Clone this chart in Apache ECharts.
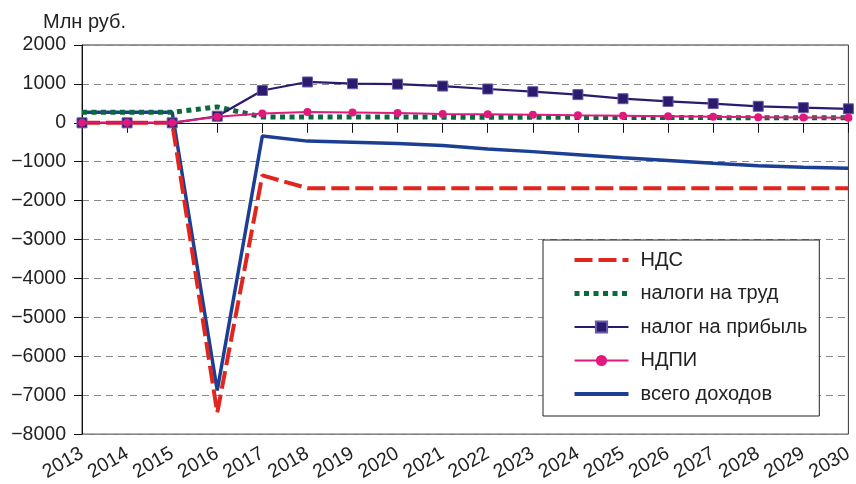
<!DOCTYPE html>
<html>
<head>
<meta charset="utf-8">
<script src="https://cdn.jsdelivr.net/npm/echarts@6/dist/echarts.min.js"></script>
<style>html,body{margin:0;padding:0;background:#fff}#c{width:856px;height:484px}</style>
</head>
<body>
<div id="c"></div>
<script>
var years = ['2013','2014','2015','2016','2017','2018','2019','2020','2021','2022','2023','2024','2025','2026','2027','2028','2029','2030'];
var nds = [0,0,0,-7450,-1350,-1680,-1680,-1680,-1680,-1680,-1680,-1680,-1680,-1680,-1680,-1680,-1680,-1680];
var labor = [270,270,270,410,150,150,150,148,146,144,142,140,138,136,134,132,130,128];
var profit = [0,0,0,170,830,1050,1005,995,945,870,800,725,620,550,495,425,390,360];
var ndpi = [0,0,0,155,240,280,265,250,230,220,210,195,185,170,155,145,135,128];
var total = [270,270,270,-6880,-340,-470,-500,-530,-580,-670,-740,-820,-900,-970,-1040,-1100,-1140,-1170];
var seriesNames = ['НДС','налоги на труд','налог на прибыль','НДПИ','всего доходов'];
var yTitle = 'Млн руб.';

var FONT = 'Liberation Sans, Arial, sans-serif';
var C_NDS = '#e0261f', C_LAB = '#0b6a3b', C_PRO = '#2b1a6e', C_NDPI = '#e0197d', C_TOT = '#1b3f93';
var chart = echarts.init(document.getElementById('c'), null, {renderer: 'canvas'});
chart.setOption({
  animation: false,
  backgroundColor: '#fff',
  textStyle: {fontFamily: FONT},
  title: {
    text: yTitle, left: 38, top: 7,
    textStyle: {fontFamily: FONT, fontSize: 20, fontWeight: 'normal', color: '#222'}
  },
  grid: {
    left: 82, right: 5, top: 45, bottom: 48,
    show: true, borderColor: '#333', borderWidth: 1, backgroundColor: 'transparent',
    containLabel: false
  },
  legend: {
    orient: 'vertical',
    left: 543, top: 240,
    padding: [10, 12, 12, 29],
    itemGap: 13.5,
    itemWidth: 54, itemHeight: 14,
    backgroundColor: '#fff', borderColor: '#222', borderWidth: 1,
    textStyle: {fontFamily: FONT, fontSize: 20, color: '#222', padding: [0,0,0,7]},
    data: [
      {name: seriesNames[0], itemStyle: {opacity: 0}, lineStyle: {width: 4, type: [18, 6], color: C_NDS}},
      {name: seriesNames[1], itemStyle: {opacity: 0}, lineStyle: {width: 5, type: [5, 4.5], color: C_LAB}},
      {name: seriesNames[2], lineStyle: {width: 2, color: C_PRO}},
      {name: seriesNames[3], lineStyle: {width: 2, color: C_NDPI}},
      {name: seriesNames[4], itemStyle: {opacity: 0}, lineStyle: {width: 4, color: C_TOT}}
    ]
  },
  xAxis: [{
    type: 'category', data: years, boundaryGap: false,
    axisLine: {onZero: true, lineStyle: {color: '#111', width: 1}},
    axisTick: {show: true, length: 10, lineStyle: {color: '#111'}},
    axisLabel: {show: false},
    splitLine: {show: false}
  }, {
    type: 'category', data: years, boundaryGap: false, position: 'bottom',
    axisLine: {show: false, onZero: false},
    axisTick: {show: false},
    axisLabel: {show: true, rotate: 30, margin: 18, fontFamily: FONT, fontSize: 19.5, color: '#222', interval: 0},
    splitLine: {show: false}
  }],
  yAxis: {
    type: 'value', min: -8000, max: 2000, interval: 1000,
    axisLine: {show: true, lineStyle: {color: '#111'}},
    axisTick: {show: true, length: 8, lineStyle: {color: '#111'}},
    axisLabel: {margin: 16, fontFamily: FONT, fontSize: 19.5, color: '#222',
      formatter: function(v){ return v < 0 ? '\u2212' + Math.abs(v) : String(v); }},
    splitLine: {show: true, lineStyle: {color: '#888', type: [7,5], width: 1}}
  },
  series: [{
    name: seriesNames[0], type: 'line', data: nds, xAxisIndex: 0, z: 3,
    symbol: 'none', showSymbol: false,
    lineStyle: {color: C_NDS, width: 4, type: [18, 6]},
    itemStyle: {color: C_NDS}
  }, {
    name: seriesNames[1], type: 'line', data: labor, xAxisIndex: 0, z: 4,
    symbol: 'none', showSymbol: false,
    lineStyle: {color: C_LAB, width: 5, type: [5, 4.5]},
    itemStyle: {color: C_LAB}
  }, {
    name: seriesNames[2], type: 'line', data: profit, xAxisIndex: 0, z: 5,
    symbol: 'rect', symbolSize: 10,
    lineStyle: {color: C_PRO, width: 2.2},
    itemStyle: {color: C_PRO, borderColor: '#6a5aa8', borderWidth: 1}
  }, {
    name: seriesNames[3], type: 'line', data: ndpi, xAxisIndex: 0, z: 6,
    symbol: 'circle', symbolSize: 8,
    lineStyle: {color: C_NDPI, width: 2},
    itemStyle: {color: C_NDPI}
  }, {
    name: seriesNames[4], type: 'line', data: total, xAxisIndex: 0, z: 2,
    symbol: 'none', showSymbol: false,
    lineStyle: {color: C_TOT, width: 3.5},
    itemStyle: {color: C_TOT}
  }]
});
</script>
</body>
</html>
